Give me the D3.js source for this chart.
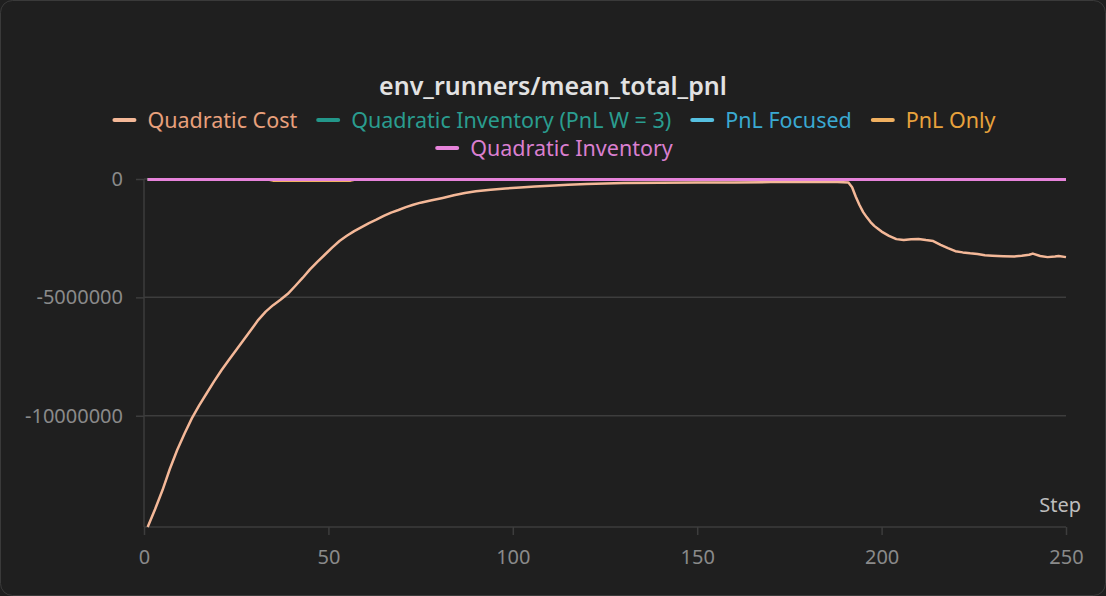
<!DOCTYPE html>
<html>
<head>
<meta charset="utf-8">
<script src="https://cdn.jsdelivr.net/npm/d3@7"></script>
<style>
  html, body { margin: 0; padding: 0; background: #1f1f1f; }
  svg { display: block; font-family: "Noto Sans", sans-serif; }
</style>
</head>
<body>
<div id="chart"></div>
<script>
// Series values (mean total pnl)
const costSteps = [1, 3, 5, 7, 9, 11, 13, 15, 17, 19, 21, 23, 25, 27, 29, 31, 33, 35, 37, 39,
  41, 43, 45, 47, 49, 51, 53, 55, 57, 59, 61, 63, 65, 67, 69, 71, 73, 75, 78, 81,
  84, 87, 90, 94, 98, 102, 106, 110, 115, 120, 125, 130, 140, 150, 160, 170, 180, 188, 191, 192,
  193, 194, 195, 196, 197, 198, 199, 200, 202, 204, 206, 208, 210, 212, 214, 216, 218, 220, 222, 224,
  226, 228, 230, 233, 236, 238, 240, 241, 243, 245, 247, 248, 250];
const costValues = [-14.70, -13.95, -13.15, -12.25, -11.45, -10.75, -10.10, -9.55, -9.05, -8.55,
  -8.08, -7.65, -7.22, -6.80, -6.38, -5.95, -5.60, -5.33, -5.10, -4.85,
  -4.52, -4.18, -3.82, -3.50, -3.20, -2.90, -2.62, -2.40, -2.20, -2.03,
  -1.86, -1.72, -1.56, -1.42, -1.31, -1.19, -1.09, -1.00, -0.90, -0.80,
  -0.69, -0.59, -0.52, -0.45, -0.40, -0.36, -0.32, -0.28, -0.24, -0.21,
  -0.19, -0.17, -0.16, -0.15, -0.15, -0.13, -0.13, -0.13, -0.15, -0.35,
  -0.75, -1.10, -1.40, -1.62, -1.82, -1.98, -2.10, -2.22, -2.40, -2.54,
  -2.58, -2.55, -2.53, -2.58, -2.62, -2.78, -2.92, -3.05, -3.10, -3.14,
  -3.17, -3.22, -3.24, -3.26, -3.27, -3.24, -3.20, -3.15, -3.25, -3.30,
  -3.27, -3.25, -3.30].map(v => v * 1e6);

const invW3Steps = [1, 250];
const invW3Values = [-20000, -20000];
const focusedSteps = [1, 250];
const focusedValues = [-20000, -20000];
const pnlOnlySteps = [1, 34, 35, 56, 57, 250];
const pnlOnlyValues = [-20000, -20000, -60000, -60000, -20000, -20000];
const invSteps = [1, 60, 120, 180, 250];
const invValues = [-20000, -20000, -20000, -20000, -20000];

const seriesNames = ["Quadratic Cost", "Quadratic Inventory (PnL W = 3)", "PnL Focused", "PnL Only", "Quadratic Inventory"];
const lineColors = ["#f4b898", "#23978a", "#56c0e0", "#f0b060", "#e683da"];
const textColors = ["#e8a07c", "#2a9d8f", "#3aa9d2", "#e8a23c", "#da7fd0"];

const xTicks = [0, 50, 100, 150, 200, 250];
const yTicks = [0, -5000000, -10000000];

const title = "env_runners/mean_total_pnl";

// Build the series table from the arrays
const series = [
  { steps: costSteps, values: costValues },
  { steps: invW3Steps, values: invW3Values },
  { steps: focusedSteps, values: focusedValues },
  { steps: pnlOnlySteps, values: pnlOnlyValues },
  { steps: invSteps, values: invValues }
].map((s, i) => ({
  name: seriesNames[i],
  color: lineColors[i],
  textColor: textColors[i],
  points: s.steps.map((st, j) => ({ step: st, value: s.values[j] }))
}));

const width = 1106, height = 596;
const plot = { left: 144, right: 1066, top: 179, bottom: 527 };

const svg = d3.select("#chart").append("svg")
  .attr("width", width)
  .attr("height", height);

// Card background
svg.append("rect")
  .attr("x", 0.5).attr("y", 0.5)
  .attr("width", width - 1).attr("height", height - 1)
  .attr("rx", 12)
  .attr("fill", "#1f1f1f")
  .attr("stroke", "#3a3a3a");

const x = d3.scaleLinear().domain([0, 250]).range([plot.left, plot.right]);
const y = d3.scaleLinear().domain([-14700000, 0]).range([plot.bottom, plot.top]);

// Grid lines
svg.append("g")
  .selectAll("line")
  .data(yTicks)
  .join("line")
  .attr("x1", plot.left).attr("x2", plot.right)
  .attr("y1", d => y(d)).attr("y2", d => y(d))
  .attr("stroke", "#3d3d3d")
  .attr("stroke-width", 1.5);

// Y axis (plain hyphen minus, like the original)
const yAxis = svg.append("g")
  .attr("transform", `translate(${plot.left},0)`)
  .call(d3.axisLeft(y).tickValues(yTicks).tickSize(8).tickPadding(13).tickFormat(d => String(d)));

// X axis
const xAxis = svg.append("g")
  .attr("transform", `translate(0,${plot.bottom})`)
  .call(d3.axisBottom(x).tickValues(xTicks).tickSize(8).tickPadding(15).tickFormat(d => String(d)));

[yAxis, xAxis].forEach(ax => {
  ax.select(".domain").attr("stroke", "#3d3d3d").attr("stroke-width", 1.5);
  ax.selectAll(".tick line").attr("stroke", "#3d3d3d").attr("stroke-width", 1.5);
  ax.selectAll(".tick text")
    .attr("fill", "#8a8a8a")
    .attr("font-size", "20px")
    .attr("font-family", "Noto Sans, sans-serif");
});
xAxis.select(".domain").attr("d", `M${plot.left},0H${plot.right}`);
yAxis.select(".domain").attr("d", `M0,${plot.top}V${plot.bottom}`);

// X label
svg.append("text")
  .attr("x", 1081)
  .attr("y", 512)
  .attr("text-anchor", "end")
  .attr("fill", "#bdbdbd")
  .attr("font-size", "20px")
  .text("Step");

// Lines
const line = d3.line()
  .x(d => x(d.step))
  .y(d => y(d.value));

svg.append("g")
  .attr("fill", "none")
  .selectAll("path")
  .data(series)
  .join("path")
  .attr("d", d => line(d.points))
  .attr("stroke", d => d.color)
  .attr("stroke-width", d => d.name === "Quadratic Cost" ? 2.5 : 3)
  .attr("stroke-linejoin", "round");

// Title
svg.append("text")
  .attr("x", 553)
  .attr("y", 95)
  .attr("text-anchor", "middle")
  .attr("fill", "#e2e2e2")
  .attr("font-size", "25px")
  .attr("font-weight", 600)
  .text(title);

// Legend, two centered rows
const legendRows = [series.slice(0, 4), series.slice(4)];
const legendY = [120, 148];
const swatchW = 20, swatchGap = 13, itemGap = 21, legendCenter = 555;

legendRows.forEach((row, r) => {
  const g = svg.append("g");
  const items = row.map(d => {
    const item = g.append("g");
    item.append("line")
      .attr("x1", 0).attr("x2", swatchW)
      .attr("y1", 0).attr("y2", 0)
      .attr("stroke", d.color)
      .attr("stroke-width", 4)
      .attr("stroke-linecap", "round");
    const t = item.append("text")
      .attr("x", swatchW + swatchGap)
      .attr("y", 7.5)
      .attr("fill", d.textColor)
      .attr("font-size", "21.5px")
      .text(d.name);
    return { item, w: swatchW + swatchGap + t.node().getComputedTextLength() };
  });
  const total = d3.sum(items, d => d.w) + itemGap * (items.length - 1);
  let cx = legendCenter - total / 2;
  items.forEach(it => {
    it.item.attr("transform", `translate(${cx},${legendY[r]})`);
    cx += it.w + itemGap;
  });
});
</script>
</body>
</html>
